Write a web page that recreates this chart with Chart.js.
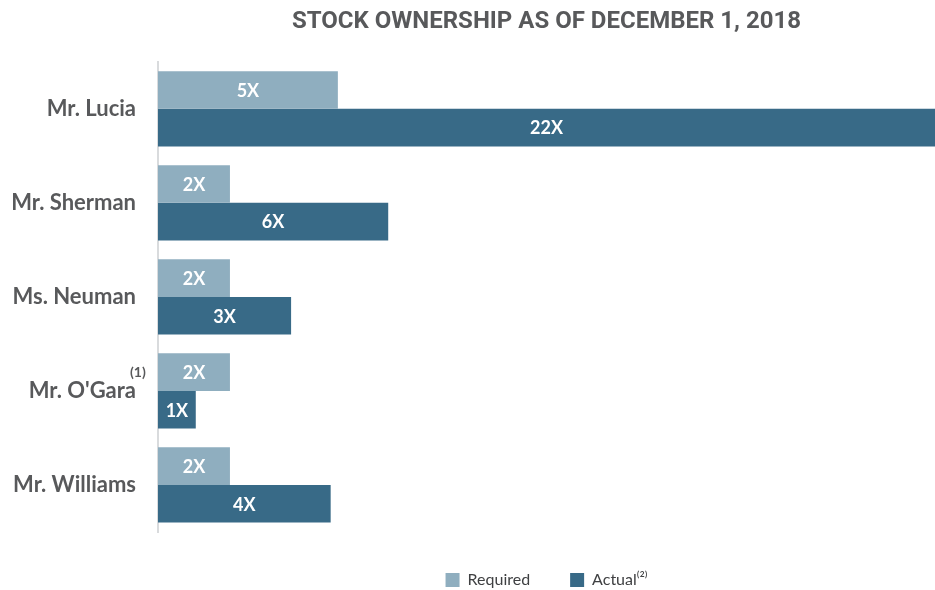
<!DOCTYPE html>
<html>
<head>
<meta charset="utf-8">
<script src="https://cdn.jsdelivr.net/npm/chart.js@4/dist/chart.umd.min.js"></script>
<style>
  html, body { margin: 0; padding: 0; background: #fff; }
  #wrap { width: 935px; height: 590px; position: relative; }
</style>
</head>
<body>
<div id="wrap"><canvas id="chart"></canvas></div>
<script>
// data
const executives = ["Mr. Lucia", "Mr. Sherman", "Ms. Neuman", "Mr. O'Gara", "Mr. Williams"];
const requiredValues = [5, 2, 2, 2, 2];
const actualValues = [21.6, 6.4, 3.7, 1.05, 4.8];
const requiredLabels = ["5X", "2X", "2X", "2X", "2X"];
const actualLabels = ["22X", "6X", "3X", "1X", "4X"];
const footnotes = { "Mr. O'Gara": "(1)" };

const LIGHT = "#8faebf";
const DARK = "#386a87";
const GREY = "#58595b";

// white value labels inside each bar
const barLabels = {
  id: "barLabels",
  afterDatasetsDraw(chart) {
    const ctx = chart.ctx;
    const texts = [requiredLabels, actualLabels];
    ctx.save();
    ctx.fillStyle = "#fff";
    ctx.font = "bold 18px Lato, sans-serif";
    ctx.textAlign = "center";
    ctx.textBaseline = "middle";
    chart.data.datasets.forEach((ds, i) => {
      chart.getDatasetMeta(i).data.forEach((bar, j) => {
        ctx.fillText(texts[i][j], (bar.base + bar.x) / 2, bar.y + 1);
      });
    });
    ctx.restore();
  }
};

// small superscript footnote next to a category label
const footnoteMarks = {
  id: "footnoteMarks",
  afterDraw(chart) {
    const ctx = chart.ctx;
    const y = chart.scales.y;
    ctx.save();
    ctx.fillStyle = GREY;
    ctx.font = "bold 14px Lato, sans-serif";
    ctx.textAlign = "left";
    ctx.textBaseline = "middle";
    executives.forEach((name, i) => {
      if (footnotes[name]) {
        ctx.fillText(footnotes[name], y.right - 28, y.getPixelForValue(i) - 18);
      }
    });
    ctx.restore();
  }
};

new Chart(document.getElementById("chart"), {
  type: "bar",
  data: {
    labels: executives,
    datasets: [
      {
        label: "Required",
        data: requiredValues,
        backgroundColor: LIGHT,
        categoryPercentage: 0.8,
        barPercentage: 1.0
      },
      {
        label: "Actual\u207D\u00B2\u207E",
        data: actualValues,
        backgroundColor: DARK,
        categoryPercentage: 0.8,
        barPercentage: 1.0
      }
    ]
  },
  options: {
    indexAxis: "y",
    responsive: true,
    maintainAspectRatio: false,
    animation: false,
    layout: { padding: { left: 0, right: 0, top: 0, bottom: -8 } },
    plugins: {
      title: {
        display: true,
        text: "STOCK OWNERSHIP AS OF DECEMBER 1, 2018",
        fullSize: false,
        color: GREY,
        font: { family: "Roboto, sans-serif", size: 24, weight: "bold" },
        padding: { top: 8, bottom: 25 }
      },
      legend: {
        position: "bottom",
        fullSize: false,
        labels: {
          color: "#3f4042",
          font: { family: "Lato, sans-serif", size: 16 },
          boxWidth: 14,
          boxHeight: 14,
          padding: 40
        }
      },
      tooltip: { enabled: false }
    },
    scales: {
      x: {
        display: false,
        min: 0,
        max: 21.6
      },
      y: {
        grid: { display: false },
        border: { display: true, color: "#d9dbdd", width: 2 },
        ticks: {
          color: GREY,
          font: { family: "Lato, sans-serif", size: 22, weight: "bold" },
          padding: 14
        },
        afterFit(scale) {
          scale.width = 158;
        }
      }
    }
  },
  plugins: [barLabels, footnoteMarks]
});
</script>
</body>
</html>
